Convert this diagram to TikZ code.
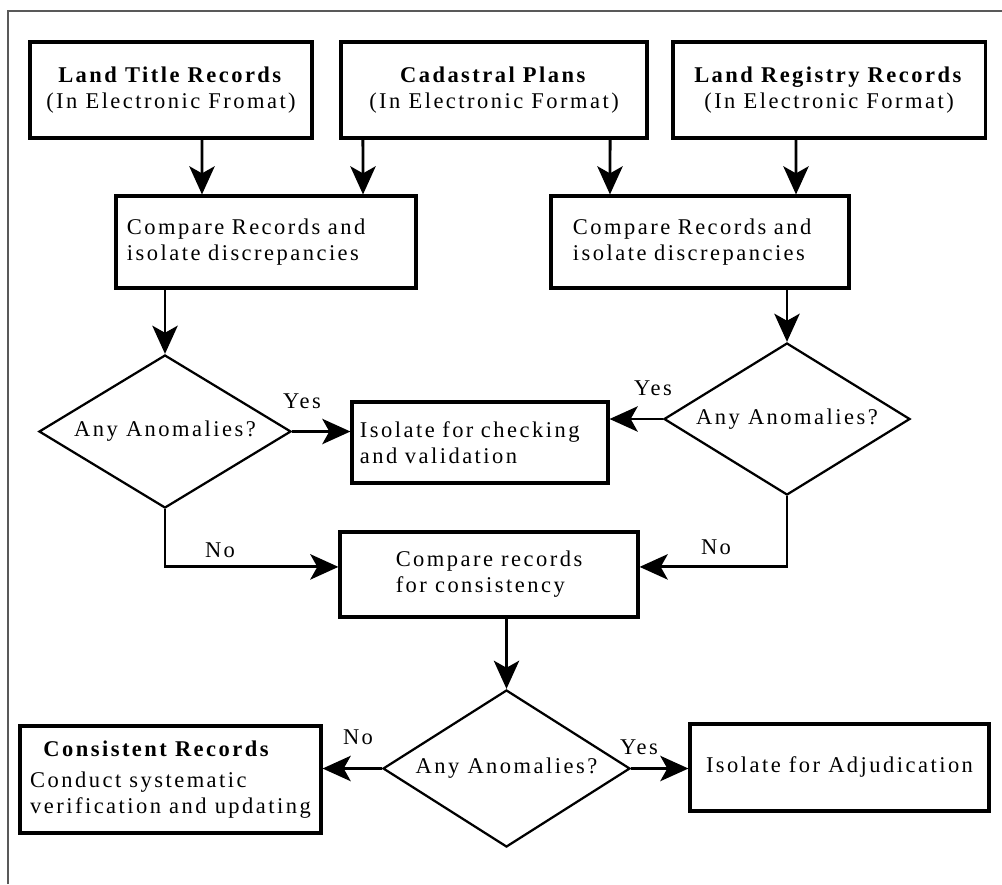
\documentclass[tikz,border=0pt]{standalone}
\usepackage{fontspec}
\setmainfont{Liberation Serif}[LetterSpace=11]
\usepackage{tikz}
\usetikzlibrary{positioning}
\usetikzlibrary{shapes.geometric}
\usetikzlibrary{arrows.meta}

\begin{document}
\begin{tikzpicture}[x=0.025cm, y=-0.025cm,
  every node/.style={font=\fontsize{16}{18.5}\selectfont},
  recbox/.style={draw, line width=2.2pt, inner sep=0pt, align=center},
  decision/.style={diamond, aspect=1.65, draw, line width=1.6pt, inner sep=0pt},
  flow/.style={line width=2.1pt, -{Stealth[length=20pt, width=18pt, inset=5pt]}},
  answer/.style={inner sep=1pt}]
\useasboundingbox (0,0) rectangle (1002,884);
\draw[line width=1.5pt, black!65] (8,884) -- (8,11) -- (1002,11);
% --- sources
\node[recbox, minimum width=7.05cm, minimum height=2.4cm] (title) at (171,90)
  {\textbf{Land Title Records}\\(In Electronic Fromat)};
\node[recbox, minimum width=7.65cm, minimum height=2.4cm] (cad) at (494,90)
  {\textbf{Cadastral Plans}\\(In Electronic Format)};
\node[recbox, minimum width=7.8cm, minimum height=2.4cm] (reg) at (829,90)
  {\textbf{Land Registry Records}\\(In Electronic Format)};
% --- first comparison
\node[recbox, align=left, text width=6.95cm, minimum width=7.5cm, minimum height=2.3cm] (cmpA) at (266,242)
  {Compare Records and\\isolate discrepancies};
\node[recbox, align=left, text width=6.35cm, minimum width=7.45cm, minimum height=2.3cm] (cmpB) at (700,242)
  {Compare Records and\\isolate discrepancies};
% --- decisions
\node[decision, minimum width=6.3cm, minimum height=3.825cm] (d1) at (165,431.5) {Any Anomalies?};
\node[decision, minimum width=6.15cm, minimum height=3.8cm] (d2) at (787,419) {Any Anomalies?};
\node[recbox, align=left, text width=6cm, minimum width=6.4cm, minimum height=2.025cm] (chk) at (480,442.5)
  {Isolate for checking\\and validation};
% --- second comparison
\node[recbox, align=left, minimum width=7.45cm, minimum height=2.125cm] (cmp2) at (489,574.5)
  {Compare records\\for consistency};
\node[decision, minimum width=6.175cm, minimum height=3.925cm] (d3) at (506.5,768.5) {Any Anomalies?};
\node[recbox, align=left, minimum width=7.525cm, minimum height=2.675cm] (cons) at (170.5,779.5)
  {\hspace*{0.33cm}\textbf{Consistent Records}\\[4pt]Conduct systematic\\verification and updating};
\node[recbox, minimum width=7.475cm, minimum height=2.175cm] (adj) at (839.5,767.5)
  {\raisebox{4pt}{Isolate for Adjudication}};
% --- answers
\node[answer] (yesA) at (302,401) {Yes};
\node[answer] (yesB) at (653,388) {Yes};
\node[answer] (noA) at (220,550) {No};
\node[answer] (noB) at (716,547) {No};
\node[answer] (noC) at (358,737) {No};
\node[answer] (yesC) at (639,747) {Yes};
% --- arrows
\draw[flow] ([xshift=0.775cm]title.south) -- ([xshift=-1.6cm]cmpA.north);
\draw[flow] ([xshift=-3.275cm]cad.south) -- ([xshift=2.425cm]cmpA.north);
\draw[flow] ([xshift=2.9cm]cad.south) -- ([xshift=-2.25cm]cmpB.north);
\draw[flow] ([xshift=-0.825cm]reg.south) -- ([xshift=2.4cm]cmpB.north);
\draw[flow] (cmpA.south -| d1.north) -- (d1.north);
\draw[flow] (cmpB.south -| d2.north) -- (d2.north);
\draw[flow] (d1.east) -- (d1.east -| chk.west);
\draw[flow] (d2.west) -- (d2.west -| chk.east);
\draw[flow] (d1.south) |- ([yshift=0.19cm]cmp2.west);
\draw[flow] (d2.south) |- ([yshift=0.19cm]cmp2.east);
\draw[flow] (cmp2.south -| d3.north) -- (d3.north);
\draw[flow] (d3.west) -- (d3.west -| cons.east);
\draw[flow] (d3.east) -- (d3.east -| adj.west);

\end{tikzpicture}
\end{document}
